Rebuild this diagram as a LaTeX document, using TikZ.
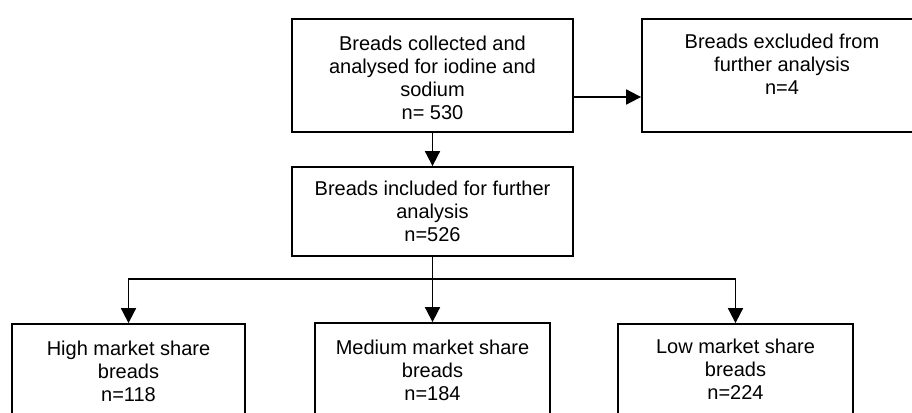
\documentclass[tikz,border=0pt]{standalone}
\usepackage{fontspec}
\setmainfont{Liberation Sans}
\usetikzlibrary{arrows.meta}
\tikzset{
  box/.style={draw,line width=1.8pt,inner sep=0pt,rectangle},
  txt/.style={font=\fontsize{20}{23}\selectfont,align=center,inner sep=0pt,anchor=north},
  arr/.style={line width=1.8pt,-{Triangle[length=15pt,width=15pt]}},
  ln/.style={line width=1.8pt}
}
\begin{document}
\begin{tikzpicture}[x=1pt,y=-1pt]
\useasboundingbox (0,0) rectangle (912,412);
\clip (0,0) rectangle (912,412);
\fill[white] (0,0) rectangle (912,412);
% boxes
\node[box,minimum width=281pt,minimum height=113pt] (top) at (432.5,75.5) {};
\node[box,minimum width=280pt,minimum height=113pt] (excl) at (782,75.5) {};
\node[box,minimum width=281pt,minimum height=89pt] (mid) at (432.5,211.5) {};
\node[box,minimum width=233pt,minimum height=130pt] (high) at (128.5,389) {};
\node[box,minimum width=235pt,minimum height=130pt] (med) at (432.5,388) {};
\node[box,minimum width=235pt,minimum height=130pt] (low) at (735.5,389) {};
% texts
\node[txt] (ttop) at ([yshift=-18pt]top.north) {Breads collected and\\analysed for iodine and\\sodium\\n= 530};
\node[txt] (texcl) at ([yshift=-16pt]excl.north) {Breads excluded from\\further analysis\\n=4};
\node[txt] (tmid) at ([yshift=-15pt]mid.north) {Breads included for further\\analysis\\n=526};
\node[txt] (thigh) at ([yshift=-17.5pt]high.north) {High market share\\breads\\n=118};
\node[txt] (tmed) at ([yshift=-18pt]med.north) {Medium market share\\breads\\n=184};
\node[txt] (tlow) at ([yshift=-16pt]low.north) {Low market share\\breads\\n=224};
% connectors
\draw[arr] ([yshift=-21.5pt]top.east) -- ([yshift=-21.5pt]excl.west);
\draw[arr] (top.south) -- (mid.north);
\coordinate (br) at (432.5,279);
\draw[ln] (mid.south) -- (br);
\draw[arr] (br) -| (high.north);
\draw[arr] (br) -- (med.north);
\draw[arr] (br) -| (low.north);
\end{tikzpicture}
\end{document}
